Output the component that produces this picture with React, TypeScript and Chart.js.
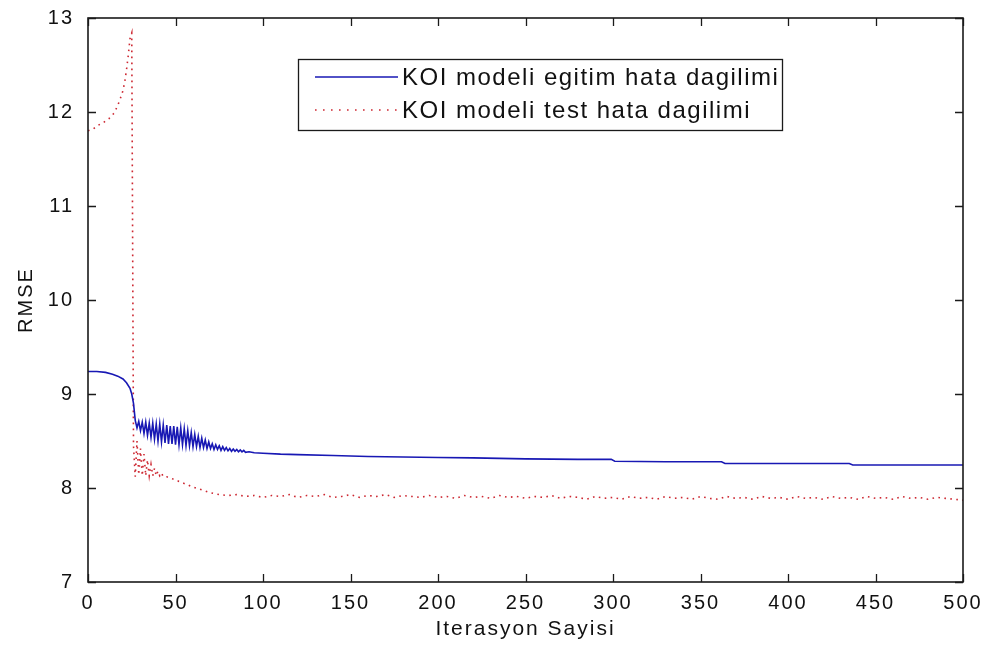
import React, { useEffect, useRef } from "react";
import { Chart, registerables } from "chart.js";

Chart.register(...registerables);

// ---------------- data ----------------
const SERIES_LABELS = ["KOI modeli egitim hata dagilimi", "KOI modeli test hata dagilimi"];
const X_TITLE = "Iterasyon Sayisi";
const Y_TITLE = "RMSE";
const X_TICKS = [0, 50, 100, 150, 200, 250, 300, 350, 400, 450, 500];
const Y_TICKS = [7, 8, 9, 10, 11, 12, 13];

// training error (blue solid)
const TRAIN_ITER = [
  0, 5, 10, 14, 17, 20, 22, 24, 25, 26, 27,
  28, 29, 30, 31, 32, 33, 34, 35, 36, 37,
  38, 39, 40, 41, 42, 43, 44, 45, 46, 47,
  48, 49, 50, 51, 52, 53, 54, 55, 56, 57,
  58, 59, 60, 61, 62, 63, 64, 65, 66, 67,
  68, 69, 70, 71, 72, 73, 74, 75, 76, 77,
  78, 79, 80, 81, 82, 83, 84, 85, 86, 87,
  88, 89, 90, 92, 95, 100,
  110, 120, 140, 160, 180, 200, 220, 250, 280, 299,
  301, 330, 362, 364, 400, 435, 437, 470, 500,
];
const TRAIN_RMSE = [
  9.24, 9.24, 9.23, 9.21, 9.19, 9.16, 9.12, 9.06, 9.0, 8.9, 8.72,
  8.64, 8.71, 8.61, 8.7, 8.58, 8.7, 8.56, 8.69, 8.54, 8.69,
  8.52, 8.68, 8.5, 8.68, 8.49, 8.67, 8.48, 8.67, 8.47, 8.66,
  8.47, 8.66, 8.46, 8.65, 8.46, 8.64, 8.46, 8.63, 8.45, 8.61,
  8.45, 8.59, 8.44, 8.57, 8.44, 8.55, 8.43, 8.53, 8.43, 8.51,
  8.42, 8.49, 8.42, 8.47, 8.41, 8.46, 8.41, 8.45, 8.4, 8.44,
  8.4, 8.43, 8.395, 8.42, 8.39, 8.415, 8.39, 8.41, 8.385, 8.405,
  8.385, 8.4, 8.38, 8.385, 8.375, 8.37,
  8.36, 8.355, 8.345, 8.335, 8.33, 8.325, 8.32, 8.31, 8.305, 8.305,
  8.285, 8.28, 8.28, 8.26, 8.26, 8.26, 8.245, 8.245, 8.245,
];

// test error (red dotted) - first part
const TEST_ITER_EARLY = [
  0, 3, 6, 9, 12, 15,
  17, 19, 20, 21, 22, 23, 24, 25,
  26, 27, 28, 29, 30, 31, 32, 33, 34, 35, 36, 37, 38, 39, 40, 41, 42, 43,
  45, 48, 52, 56, 60, 65, 70, 75, 80,
];
const TEST_RMSE_EARLY = [
  11.8, 11.82, 11.86, 11.89, 11.93, 11.99,
  12.07, 12.17, 12.23, 12.32, 12.45, 12.6, 12.78, 12.84,
  8.45, 8.12, 8.5, 8.14, 8.42, 8.13, 8.36, 8.13, 8.3, 8.13, 8.25, 8.13, 8.21, 8.13, 8.18, 8.13, 8.16, 8.12,
  8.12, 8.1, 8.07, 8.04, 8.01, 7.98, 7.95, 7.93, 7.92,
];
// test error - long flat tail
const TEST_ITER_LATE = [
  85, 90, 95, 100, 105, 110, 115, 120, 125, 130,
  135, 140, 145, 150, 155, 160, 165, 170, 175, 180,
  185, 190, 195, 200, 205, 210, 215, 220, 225, 230,
  235, 240, 245, 250, 255, 260, 265, 270, 275, 280,
  285, 290, 295, 300, 305, 310, 315, 320, 325, 330,
  335, 340, 345, 350, 355, 360, 365, 370, 375, 380,
  385, 390, 395, 400, 405, 410, 415, 420, 425, 430,
  435, 440, 445, 450, 455, 460, 465, 470, 475, 480,
  485, 490, 495, 500,
];
const TEST_RMSE_LATE = [
  7.93, 7.91, 7.92, 7.9, 7.92, 7.91, 7.93, 7.9, 7.92, 7.91,
  7.93, 7.9, 7.91, 7.93, 7.9, 7.92, 7.91, 7.93, 7.9, 7.92,
  7.91, 7.9, 7.92, 7.9, 7.91, 7.89, 7.92, 7.9, 7.91, 7.89,
  7.92, 7.9, 7.91, 7.89, 7.91, 7.9, 7.92, 7.89, 7.91, 7.9,
  7.88, 7.91, 7.89, 7.9, 7.88, 7.91, 7.89, 7.9, 7.88, 7.91,
  7.89, 7.9, 7.88, 7.91, 7.89, 7.88, 7.91, 7.89, 7.9, 7.88,
  7.91, 7.89, 7.9, 7.88, 7.91, 7.89, 7.9, 7.88, 7.91, 7.89,
  7.9, 7.88, 7.91, 7.89, 7.9, 7.88, 7.91, 7.89, 7.9, 7.88,
  7.9, 7.89, 7.88, 7.87,
];

const BLUE = "rgb(24,24,180)";
const RED = "rgb(205,40,50)";
const RED_DASH = [1.6, 4.4];
const FONT = "'Liberation Sans', Arial, Helvetica, sans-serif";

const toPoints = (xs: number[], ys: number[]) => xs.map((x, i) => ({ x, y: ys[i] }));

const framePlugin = {
  id: "matlabFrame",
  beforeDraw(chart: any) {
    chart.ctx.letterSpacing = "2px";
  },
  afterDatasetsDraw(chart: any) {
    const { ctx, chartArea, scales } = chart;
    const { left, right, top, bottom } = chartArea;
    const xs = scales.x;
    const ys = scales.y;
    ctx.save();
    ctx.strokeStyle = "#1a1a1a";
    ctx.lineWidth = 1.6;
    ctx.strokeRect(left, top, right - left, bottom - top);
    ctx.lineWidth = 1.3;
    const L = 8;
    ctx.beginPath();
    X_TICKS.forEach((v) => {
      const px = Math.round(xs.getPixelForValue(v)) + 0.5;
      ctx.moveTo(px, bottom);
      ctx.lineTo(px, bottom - L);
      ctx.moveTo(px, top);
      ctx.lineTo(px, top + L);
    });
    Y_TICKS.forEach((v) => {
      const py = Math.round(ys.getPixelForValue(v)) + 0.5;
      ctx.moveTo(left, py);
      ctx.lineTo(left + L, py);
      ctx.moveTo(right, py);
      ctx.lineTo(right - L, py);
    });
    ctx.stroke();
    ctx.restore();
  },
  afterDraw(chart: any) {
    const { ctx, chartArea } = chart;
    const bx = chartArea.left + 210;
    const by = chartArea.top + 41;
    const bw = 484;
    const bh = 71;
    ctx.save();
    ctx.fillStyle = "#ffffff";
    ctx.fillRect(bx, by, bw, bh);
    ctx.strokeStyle = "#1a1a1a";
    ctx.lineWidth = 1.3;
    ctx.strokeRect(bx + 0.5, by + 0.5, bw, bh);
    const rows = [by + 18, by + 51];
    const ds = chart.data.datasets;
    rows.forEach((ry, i) => {
      ctx.beginPath();
      ctx.strokeStyle = ds[i].borderColor;
      ctx.lineWidth = 1.6;
      ctx.setLineDash(i === 0 ? [] : [1.6, 6.4]);
      ctx.moveTo(bx + 17, ry);
      ctx.lineTo(bx + 100, ry);
      ctx.stroke();
      ctx.setLineDash([]);
      ctx.fillStyle = "#111111";
      ctx.font = `24px ${FONT}`;
      ctx.letterSpacing = "1.5px";
      ctx.textBaseline = "middle";
      ctx.textAlign = "left";
      ctx.fillText(ds[i].label, bx + 104, ry + 1);
    });
    ctx.restore();
  },
};

export default function App() {
  const canvasRef = useRef<HTMLCanvasElement | null>(null);

  useEffect(() => {
    if (!canvasRef.current) return;
    const chart = new Chart(canvasRef.current, {
      type: "line",
      data: {
        datasets: [
          {
            label: SERIES_LABELS[0],
            data: toPoints(TRAIN_ITER, TRAIN_RMSE),
            borderColor: BLUE,
            borderWidth: 1.6,
            pointRadius: 0,
            tension: 0,
            fill: false,
          },
          {
            label: SERIES_LABELS[1],
            data: toPoints(TEST_ITER_EARLY.concat(TEST_ITER_LATE), TEST_RMSE_EARLY.concat(TEST_RMSE_LATE)),
            borderColor: RED,
            borderWidth: 1.6,
            borderDash: RED_DASH,
            pointRadius: 0,
            tension: 0,
            fill: false,
          },
        ],
      },
      options: {
        animation: false,
        responsive: false,
        maintainAspectRatio: false,
        layout: { padding: { left: 0, top: 16, right: 30, bottom: 0 } },
        plugins: {
          legend: { display: false },
          tooltip: { enabled: false },
        },
        scales: {
          x: {
            type: "linear",
            min: 0,
            max: 500,
            grid: { display: false },
            border: { display: false },
            afterFit: (s: any) => {
              s.height = 66;
            },
            afterBuildTicks: (s: any) => {
              s.ticks = X_TICKS.map((v) => ({ value: v }));
            },
            ticks: {
              color: "#111111",
              font: { family: FONT, size: 20 },
              padding: 1,
              maxRotation: 0,
              autoSkip: false,
            },
            title: {
              display: true,
              text: X_TITLE,
              color: "#111111",
              font: { family: FONT, size: 21 },
              padding: { top: 0, bottom: 6 },
            },
          },
          y: {
            type: "linear",
            min: 7,
            max: 13,
            grid: { display: false },
            border: { display: false },
            afterFit: (s: any) => {
              s.width = 88;
            },
            afterBuildTicks: (s: any) => {
              s.ticks = Y_TICKS.map((v) => ({ value: v }));
            },
            ticks: {
              color: "#111111",
              font: { family: FONT, size: 20 },
              padding: 6,
              autoSkip: false,
            },
            title: {
              display: true,
              text: Y_TITLE,
              color: "#111111",
              font: { family: FONT, size: 20 },
              padding: { top: 14, bottom: 0 },
            },
          },
        },
      },
      plugins: [framePlugin],
    });
    return () => chart.destroy();
  }, []);

  return (
    <div style={{ position: "absolute", left: 0, top: 0, width: 993, height: 648, background: "#ffffff" }}>
      <canvas ref={canvasRef} width={993} height={648} style={{ display: "block" }} />
    </div>
  );
}
